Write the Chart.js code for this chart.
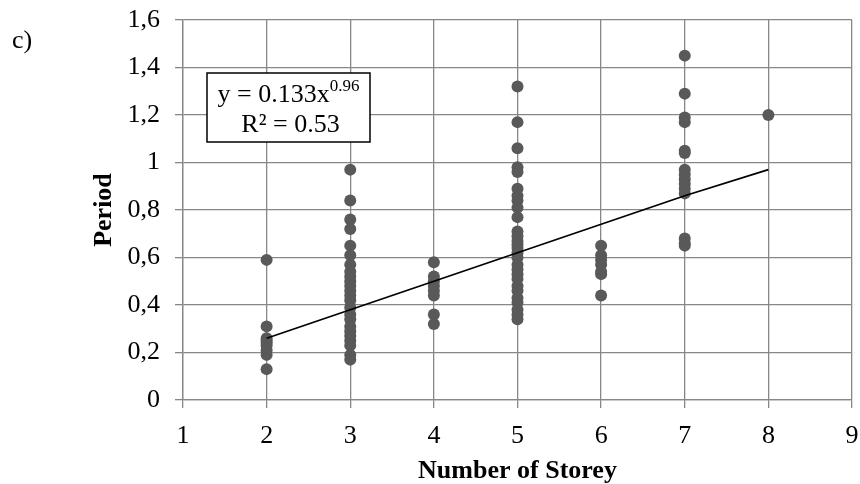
<!DOCTYPE html>
<html>
<head>
<meta charset="utf-8">
<script src="https://cdn.jsdelivr.net/npm/chart.js@4.4.0/dist/chart.umd.min.js"></script>
<style>
  body { margin: 0; background: #fff; }
  #wrap { width: 860px; height: 484px; }
</style>
</head>
<body>
<div id="wrap"><canvas id="periodChart" width="860" height="484"></canvas></div>
<script>
// measured periods grouped by number of storeys
const storeys = [2, 3, 4, 5, 6, 7, 8]
const periods2 = [0.59, 0.31, 0.26, 0.25, 0.24, 0.23, 0.21, 0.19, 0.13]
const periods3 = [0.97, 0.84, 0.76, 0.72, 0.65, 0.61, 0.57, 0.54, 0.52, 0.50, 0.48, 0.46,
                  0.44, 0.42, 0.39, 0.36, 0.34, 0.31, 0.29, 0.27, 0.25, 0.23, 0.19, 0.17]
const periods4 = [0.58, 0.52, 0.50, 0.48, 0.46, 0.44, 0.36, 0.32]
const periods5 = [1.32, 1.17, 1.06, 0.98, 0.96, 0.89, 0.86, 0.84, 0.81, 0.77, 0.71, 0.69,
                  0.67, 0.655, 0.64, 0.62, 0.60, 0.57, 0.55, 0.53, 0.51, 0.48, 0.46, 0.43,
                  0.41, 0.38, 0.36, 0.34]
const periods6 = [0.65, 0.61, 0.59, 0.57, 0.54, 0.53, 0.44]
const periods7 = [1.45, 1.29, 1.19, 1.17, 1.05, 1.04, 0.97, 0.95, 0.93, 0.91, 0.89, 0.87,
                  0.68, 0.66, 0.65]
const periods8 = [1.20]

// trend line
const trendX = [2, 3, 4, 5, 6, 7, 8]
const trendY = [0.26, 0.38, 0.50, 0.62, 0.74, 0.86, 0.97]

const yTickLabels = ['0', '0,2', '0,4', '0,6', '0,8', '1', '1,2', '1,4', '1,6']

const allPeriods = [periods2, periods3, periods4, periods5, periods6, periods7, periods8]
const points = []
allPeriods.forEach((list, i) => {
    list.forEach(p => points.push({ x: storeys[i], y: p }))
})
const trendPoints = trendX.map((x, i) => ({ x: x, y: trendY[i] }))

const FONT = "'Liberation Serif', 'Times New Roman', serif"
Chart.defaults.font.family = FONT
Chart.defaults.color = '#000'

const gridGray = '#878787'

// no extra room for overflowing tick labels, layout padding decides
function noLabelPadding(scale) {
    scale.paddingLeft = 0
    scale.paddingRight = 0
    scale.paddingTop = 0
    scale.paddingBottom = 0
}

// "c)" label and the equation box
const notes = {
    id: 'notes',
    afterDraw(chart) {
        const ctx = chart.ctx
        ctx.save()
        ctx.fillStyle = '#000'
        ctx.textBaseline = 'alphabetic'
        ctx.font = '26px ' + FONT
        ctx.fillText('c)', 12, 48)

        // box
        const bx = 207, by = 73, bw = 163, bh = 69
        ctx.fillStyle = '#fff'
        ctx.fillRect(bx, by, bw, bh)
        ctx.strokeStyle = '#000'
        ctx.lineWidth = 1.5
        ctx.strokeRect(bx, by, bw, bh)

        const cx = bx + bw / 2
        ctx.fillStyle = '#000'
        const main = 'y = 0.133x'
        const sup = '0.96'
        ctx.font = '26px ' + FONT
        const wMain = ctx.measureText(main).width
        ctx.font = '17px ' + FONT
        const wSup = ctx.measureText(sup).width
        const x0 = cx - (wMain + wSup) / 2
        ctx.font = '26px ' + FONT
        ctx.fillText(main, x0, 102)
        ctx.font = '17px ' + FONT
        ctx.fillText(sup, x0 + wMain, 91)

        ctx.font = '26px ' + FONT
        ctx.textAlign = 'center'
        ctx.fillText('R² = 0.53', cx + 2, 132)
        ctx.restore()
    }
}

const periodChart = new Chart(document.getElementById('periodChart').getContext('2d'), {
    type: 'scatter',
    data: {
        datasets: [{
            label: 'trend',
            data: trendPoints,
            showLine: true,
            borderColor: '#000',
            borderWidth: 1.8,
            pointRadius: 0,
            tension: 0
        }, {
            label: 'Period',
            data: points,
            backgroundColor: '#595959',
            borderWidth: 0,
            pointRadius: 6,
            pointHoverRadius: 6
        }]
    },
    options: {
        responsive: false,
        animation: false,
        layout: {
            padding: { left: 88, top: 20, right: 8, bottom: 0 }
        },
        plugins: {
            legend: { display: false },
            tooltip: { enabled: false }
        },
        scales: {
            x: {
                type: 'linear',
                min: 1,
                max: 9,
                afterFit(scale) {
                    scale.height = 84
                    noLabelPadding(scale)
                },
                ticks: {
                    stepSize: 1,
                    padding: 13,
                    maxRotation: 0,
                    font: { size: 26 },
                    color: '#000'
                },
                grid: { color: gridGray, lineWidth: 1.3, tickLength: 8 },
                border: { color: gridGray, width: 1.3 },
                title: {
                    display: true,
                    text: 'Number of Storey',
                    font: { size: 26, weight: 'bold', lineHeight: 1 },
                    padding: { top: 0, bottom: 0 },
                    color: '#000'
                }
            },
            y: {
                min: 0,
                max: 1.6,
                afterFit(scale) {
                    scale.width = 95
                    noLabelPadding(scale)
                },
                ticks: {
                    stepSize: 0.2,
                    padding: 15,
                    font: { size: 26 },
                    color: '#000',
                    callback: (v, i) => yTickLabels[i]
                },
                grid: { color: gridGray, lineWidth: 1.3, tickLength: 8 },
                border: { color: gridGray, width: 1.3 },
                title: {
                    display: true,
                    text: 'Period',
                    font: { size: 26, weight: 'bold', lineHeight: 1 },
                    padding: { top: 3, bottom: 0 },
                    color: '#000'
                }
            }
        }
    },
    plugins: [notes]
})
</script>
</body>
</html>
